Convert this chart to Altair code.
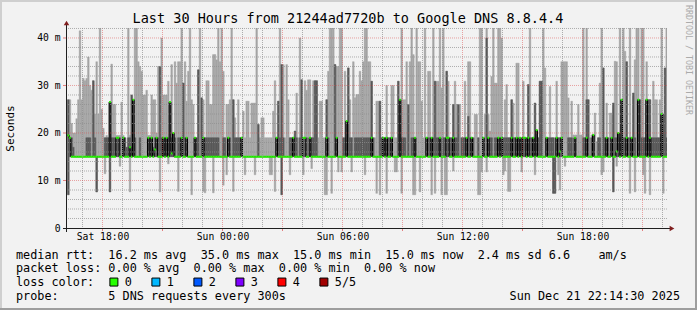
import altair as alt
import pandas as pd

MONO = "DejaVu Sans Mono"

title_text = "Last 30 Hours from 21244ad7720b to Google DNS 8.8.4.4"
watermark_text = "RRDTOOL / TOBI OETIKER"
y_title = "Seconds"

# ---- smoke data, one value per 5-minute step (ms) ----
max_ms = [
    27, 27, 22, 20, 20, 23, 27, 41.5, 27, 31.5, 31, 31.5, 36, 30, 29, 31, 24, 35, 24, 44,
    25, 21, 19, 19.5, 19, 26.5, 34.5, 26, 26, 19.5, 19.5, 19.5, 26.5, 19.5, 19, 17, 44, 19.5, 28, 27,
    44, 44, 35, 34, 33, 28, 28, 29, 19.5, 19.5, 28, 27, 27, 20, 34, 34, 40, 28, 28, 28,
    30.9, 26.5, 34.4, 20, 35, 30.5, 35, 35, 44, 30.5, 35, 26.7, 33, 44, 27, 26, 19, 19, 33.3, 44,
    27.4, 27, 19, 31, 31, 26, 26, 36.5, 36.5, 35.4, 44, 35, 44, 33, 19, 26, 26, 27, 44, 27,
    23.2, 19, 27, 19, 19, 24.6, 19, 26.7, 26.7, 19, 26.3, 26.3, 26.3, 44, 21.8, 19, 23.2, 23.2, 19, 19,
    19, 19, 19, 24.6, 31, 19, 26.7, 44, 34.4, 34.4, 19, 34.4, 27, 19, 19, 19, 20.4, 28.4, 19, 40,
    31.2, 19, 31, 29, 31.2, 31.2, 19, 31, 31, 31, 19, 26.7, 26.7, 19, 19, 27, 33, 44, 44, 44,
    34.4, 34, 34, 44, 44, 19, 33, 22.5, 33.7, 27, 19, 35, 27.4, 28.1, 28.1, 33, 31, 35, 44, 44,
    35, 35, 30.9, 19, 19, 26.7, 26.7, 26.7, 19, 19, 19, 30, 19, 19, 30, 30, 19, 19, 30.9, 27,
    44, 27, 27, 35, 26, 35, 44, 36.5, 19, 44, 35, 35, 26.7, 19, 44, 19, 33, 33, 19, 44,
    30.9, 30.9, 30.9, 44, 29.5, 44, 19, 33, 30.9, 19, 19, 26, 30.9, 26, 26, 26, 19, 19, 30.9, 19,
    35, 35, 19, 19, 23.9, 23.9, 19, 44, 44, 19, 23.9, 44, 23.9, 20.4, 31.9, 44, 30.5, 30.5, 44, 44,
    40, 19, 27, 30.2, 19, 19, 27, 26.3, 19, 34.7, 34.7, 19, 19, 30.9, 19, 19, 30.2, 44, 19, 19,
    26.3, 20.6, 19, 30.9, 30.9, 44, 33.7, 19, 19, 29.8, 19, 19, 19, 30.9, 19, 19, 35, 35, 35, 35,
    27.4, 19, 26.7, 19.6, 19.6, 19.6, 26, 19.6, 19.6, 44, 19, 44, 27, 19, 19.6, 19.6, 24.2, 18.2, 19, 30.5,
    44, 33.7, 19, 26.3, 19, 24.2, 24.2, 26.3, 35.1, 35, 20, 44, 27, 44, 37.2, 35, 19, 44, 19, 28.4,
    35.4, 44, 44, 27, 44, 44, 19, 35, 27, 27, 19, 30.9, 27, 27, 19, 27, 44, 24, 33.7, 44,
]

p4_ms = [
    27, 19, 19, 17, 15, 15, 15, 15, 15, 15, 15, 19, 19, 19, 15, 31, 19, 15, 15, 15,
    15, 15, 19, 19, 19, 26.5, 19, 19, 19, 19, 19, 19, 15, 19, 19, 17, 19, 19, 28, 27,
    19, 15, 15, 19, 15, 15, 15, 15, 19, 19, 19, 17, 19, 19, 19, 34, 19, 19, 19, 19,
    19, 26.5, 19, 20, 19, 15, 19, 19, 19, 30.5, 19, 19, 15, 15, 15, 15, 19, 19, 33.3, 15,
    27.4, 19, 19, 19, 19, 19, 19, 19, 19, 19, 19, 15, 15, 19, 19, 15, 19, 19, 15, 27,
    19, 19, 19, 19, 19, 15, 15, 15, 15, 15, 15, 15, 15, 15, 21.8, 15, 15, 15, 15, 15,
    15, 15, 15, 15, 15, 19, 26.7, 19, 34.4, 19, 15, 15, 15, 19, 19, 19, 20.4, 19, 15, 19,
    31.2, 19, 19, 19, 15, 19, 19, 19, 31, 31, 15, 15, 15, 15, 15, 27, 19, 15, 15, 15,
    34.4, 19, 15, 15, 15, 19, 19, 22.5, 33.7, 19, 19, 15, 19, 19, 19, 19, 19, 19, 19, 19,
    19, 19, 30.9, 19, 15, 15, 15, 26.7, 19, 19, 19, 19, 19, 19, 19, 15, 15, 15, 30.9, 27,
    19, 19, 19, 15, 26, 15, 19, 19, 19, 15, 15, 15, 15, 15, 15, 19, 19, 19, 19, 19,
    30.9, 19, 19, 19, 15, 19, 19, 33, 19, 19, 19, 26, 19, 19, 26, 15, 19, 19, 19, 19,
    23.5, 19, 19, 19, 15, 15, 19, 15, 15, 19, 15, 40, 19, 19, 19, 15, 19, 19, 19, 19,
    19, 19, 19, 19, 19, 19, 27, 19, 19, 19, 19, 19, 19, 19, 19, 19, 30.2, 19, 19, 19,
    26.3, 20.6, 19, 30.9, 30.9, 15, 15, 19, 19, 19, 19, 19, 15, 19, 19, 19, 19, 15, 15, 15,
    19, 19, 19, 15, 19, 15, 15, 15, 15, 19, 19, 27, 27, 15, 19, 19.6, 15, 15, 19, 19,
    15, 33.7, 19, 19, 19, 15, 19, 26.3, 19, 19, 20, 19, 27, 19, 19, 35, 19, 19, 19, 28.4,
    19, 15, 27, 27, 19, 19, 19, 27, 27, 27, 19, 19, 19, 19, 19, 19, 24, 24, 33.7, 19,
]

med_ms = [
    19.5, 19, 15, 15, 15, 15, 15, 15, 15, 15, 15, 15, 15, 15, 15, 15, 15, 15, 15, 15,
    15, 15, 15, 15, 15, 26.5, 15, 15, 15, 19, 19, 15, 15, 19, 15, 15, 15, 17, 15, 27,
    15, 15, 15, 15, 15, 15, 15, 15, 19, 15, 19, 15, 16.5, 19, 15, 15, 15, 19, 15, 19,
    15, 26.5, 15.7, 20, 15, 15, 15, 15, 19, 15, 15, 19, 15, 15, 15, 15, 19, 15, 15, 15,
    15, 19, 15, 15, 15, 15, 15, 15, 15, 15, 15, 15, 15, 15, 15, 15, 19, 15, 15, 15,
    15, 15, 15, 15, 19, 15, 15, 15, 15, 15, 15, 15, 15, 15, 15, 15, 15, 15, 15, 15,
    15, 15, 15, 15, 15, 19, 15, 15, 15, 15, 15, 15, 15, 15, 15, 19, 15, 15, 15, 15,
    15, 19, 19, 15, 15, 19, 15, 15, 15, 15, 15, 15, 15, 15, 15, 19, 15, 15, 15, 15,
    15, 19, 15, 15, 15, 15, 15, 22.5, 15, 15, 15, 15, 15, 15, 15, 15, 15, 15, 15, 15,
    15, 15, 19, 15, 15, 15, 15, 15, 15, 19, 15, 19, 15, 15, 19, 15, 15, 15, 15, 27,
    15, 15, 15, 15, 15, 15, 15, 15, 19, 15, 15, 15, 15, 15, 15, 19, 15, 15, 19, 15,
    15, 15, 15, 19, 15, 15, 15, 19, 19, 15, 15, 19, 15, 15, 15, 15, 15, 15, 15, 19,
    15, 15, 19, 15, 15, 15, 15, 15, 15, 19, 15, 15, 19, 15, 15, 15, 15, 15, 19, 15,
    19, 15, 15, 15, 15, 15, 19, 15, 15, 19, 15, 19, 15, 19, 19, 15, 19, 15, 15, 19,
    15, 20.6, 15, 15, 15, 15, 15, 19, 15, 15, 15, 15, 15, 19, 15, 16.1, 19, 15, 15, 15,
    15, 15, 15, 15, 19, 15, 15, 15, 15, 15, 15, 19, 15, 15, 15, 19.6, 15, 15, 15, 15,
    15, 15, 15, 19, 15, 15, 19, 15, 15, 16.1, 20, 15, 27, 15, 15, 19, 15, 15, 19, 15,
    15, 15, 27, 15, 15, 15, 15, 27, 15, 19, 15, 15, 15, 15, 15, 15, 24, 15, 15, 15,
]

p2_ms = [
    7, 15, 15, 15, 15, 15, 15, 15, 15, 15, 15, 15, 15, 15, 15, 15, 15, 7.6, 15, 15,
    15, 15, 15, 15, 15, 7.6, 15, 15, 15, 15, 15, 15, 15, 15, 15, 15, 15, 15, 15, 15,
    15, 15, 15, 15, 15, 15, 15, 15, 15, 15, 15, 15, 15, 15, 15, 15, 15, 15, 15, 15,
    15, 15, 15, 15, 15, 15, 15, 15, 15, 15, 15, 15, 15, 15, 15, 15, 15, 15, 15, 15,
    15, 15, 15, 15, 15, 15, 15, 15, 15, 15, 15, 15, 15, 15, 15, 15, 15, 15, 15, 15,
    15, 15, 15, 15, 15, 15, 15, 15, 15, 15, 15, 15, 15, 15, 15, 15, 15, 15, 15, 15,
    15, 15, 15, 15, 15, 15, 15, 15, 7, 15, 15, 15, 15, 15, 15, 15, 15, 15, 15, 15,
    15, 15, 15, 15, 15, 15, 15, 15, 15, 15, 15, 15, 15, 15, 15, 15, 15, 15, 15, 15,
    15, 15, 15, 15, 15, 15, 15, 15, 15, 15, 15, 15, 15, 15, 15, 15, 15, 15, 15, 15,
    15, 15, 15, 15, 15, 15, 15, 15, 15, 15, 15, 15, 15, 15, 15, 15, 15, 15, 15, 15,
    15, 15, 15, 15, 15, 15, 15, 15, 15, 15, 15, 15, 15, 15, 15, 15, 15, 15, 15, 15,
    15, 15, 15, 15, 15, 15, 15, 15, 15, 15, 15, 15, 15, 15, 15, 15, 15, 15, 15, 15,
    15, 15, 15, 15, 15, 15, 15, 15, 15, 15, 15, 15, 15, 15, 15, 15, 15, 15, 15, 15,
    15, 15, 15, 15, 15, 15, 15, 15, 15, 15, 15, 15, 15, 15, 15, 15, 15, 15, 15, 15,
    15, 15, 15, 15, 15, 15, 15, 15, 15, 15, 15, 7.3, 7.3, 15, 15, 15, 15, 15, 15, 15,
    15, 15, 15, 15, 15, 15, 15, 15, 15, 15, 15, 15, 15, 15, 15, 15, 15, 15, 15, 15,
    15, 15, 15, 15, 15, 15, 15, 7.6, 15, 15, 15, 15, 15, 15, 15, 15, 15, 15, 15, 15,
    15, 15, 15, 15, 15, 15, 15, 15, 15, 15, 15, 15, 15, 15, 15, 15, 15, 15, 15, 15,
]

min_ms = [
    7, 15, 15, 15, 15, 15, 15, 15, 15, 15, 15, 15, 15, 15, 15, 15, 15, 7.6, 15, 15,
    15, 15, 11.4, 15, 15, 7.6, 15, 15, 15, 15, 15, 13, 15, 15, 15, 15, 15, 7.6, 15, 15,
    15, 15, 15, 15, 15, 15, 15, 15, 15, 15, 15, 15, 15, 15, 15, 7.6, 15, 15, 15, 15,
    13.5, 15, 15, 15, 15, 15, 7.7, 15, 15, 15, 15, 15, 15, 15, 7, 15, 15, 15, 15, 15,
    15, 7.7, 7.4, 15, 15, 15, 15, 7.4, 15, 15, 15, 15, 15, 9, 15, 11.2, 15, 15, 15, 7.7,
    15, 15, 15, 15, 15, 15, 11.2, 15, 15, 15, 15, 15, 11.2, 15, 15, 15, 15, 15, 15, 15,
    15, 11.2, 11.2, 15, 7.7, 15, 15, 15, 7, 15, 15, 15, 15, 11.2, 15, 15, 15, 15, 15, 15,
    15, 11.2, 15, 15, 15, 15, 12.5, 15, 15, 15, 15, 15, 15, 15, 7, 7, 15, 15, 7.3, 15,
    15, 15, 11.8, 15, 11.8, 15, 15, 15, 15, 15, 11.8, 15, 15, 15, 15, 15, 15, 15, 11.2, 15,
    15, 15, 15, 15, 15, 7.3, 15, 7, 15, 15, 15, 7.3, 15, 15, 15, 15, 11.8, 11.8, 15, 15,
    7.3, 15, 15, 15, 15, 15, 15, 7, 7, 15, 15, 7.6, 15, 15, 15, 15, 15, 15, 7, 15,
    7.3, 15, 15, 15, 7, 15, 7, 7, 15, 15, 15, 12, 15, 15, 15, 15, 15, 15, 15, 15,
    15, 15, 15, 15, 15, 15, 7, 7, 11.8, 15, 15, 11.8, 15, 15, 15, 15, 15, 15, 15, 15,
    15, 11.2, 12, 15, 7.7, 7.7, 15, 15, 15, 15, 15, 15, 11.8, 15, 15, 15, 15, 15, 15, 15,
    11.2, 15, 15, 15, 15, 15, 15, 15, 15, 15, 15, 7.3, 7.3, 15, 11.2, 8, 15, 15, 13, 15,
    15, 15, 15, 15, 15, 15, 15, 15, 15, 15, 15, 15, 15, 15, 15, 15, 15, 15, 15, 15,
    11.2, 11.8, 15, 15, 15, 15, 15, 7.6, 15, 13, 15, 15, 15, 15, 15, 15, 15, 7.3, 15, 15,
    7.6, 15, 15, 15, 15, 11.2, 7.3, 15, 15, 7, 15, 15, 15, 15, 15, 15, 15, 7.3, 15, 15,
]

n = len(max_ms)
assert all(len(a) == n for a in (p4_ms, med_ms, p2_ms, min_ms)), "length mismatch"

loss_labels = ["0", "1", "2", "3", "4", "5/5"]
loss_colors = ["#26ff00", "#00b8ff", "#0059ff", "#7e00ff", "#ff0000", "#a10000"]

y_label_values = [0, 10, 20, 30, 40]
y_major = [10, 20, 30, 40]
y_minor = [2, 4, 6, 8, 12, 14, 16, 18, 22, 24, 26, 28, 32, 34, 36, 38, 42]

stats_rows = [
    "median rtt:  16.2 ms avg  35.0 ms max  15.0 ms min  15.0 ms now  2.4 ms sd 6.6    am/s",
    "packet loss: 0.00 % avg  0.00 % max  0.00 % min  0.00 % now",
    "loss color:",
    "probe:       5 DNS requests every 300s",
]
stamp_text = "Sun Dec 21 22:14:30 2025"

# ---- frames ----
start = pd.Timestamp("2025-12-20 16:15:00")
t0 = pd.date_range(start, periods=n, freq="5min")
t1 = t0 + pd.Timedelta(minutes=5)
smoke = pd.DataFrame({
    "t0": t0, "t1": t1, "mn": min_ms, "p2": p2_ms, "p4": p4_ms,
    "mx": max_ms, "med": med_ms,
})
med_line = pd.DataFrame({"t": list(t0) + [t1[-1]], "med": med_ms + [med_ms[-1]]})

hours = pd.date_range("2025-12-20 17:00", "2025-12-21 22:00", freq="1h")
minor_x = pd.DataFrame({"t": [h for h in hours if h.hour % 3 != 0]})
major_x = pd.DataFrame({"t": [h for h in hours if h.hour % 3 == 0]})
minor_y = pd.DataFrame({"v": y_minor})
major_y = pd.DataFrame({"v": y_major})

x_scale = alt.Scale(domain=[
    alt.DateTime(year=2025, month=12, date=20, hours=16, minutes=13, seconds=30),
    alt.DateTime(year=2025, month=12, date=21, hours=22, minutes=13, seconds=30),
])
y_scale = alt.Scale(domain=[0, 42.1], nice=False, zero=False)
loss_scale = alt.Scale(domain=loss_labels, range=loss_colors)

x_axis = alt.Axis(
    values=[
        alt.DateTime(year=2025, month=12, date=20, hours=18),
        alt.DateTime(year=2025, month=12, date=21, hours=0),
        alt.DateTime(year=2025, month=12, date=21, hours=6),
        alt.DateTime(year=2025, month=12, date=21, hours=12),
        alt.DateTime(year=2025, month=12, date=21, hours=18),
    ],
    format="%a %H:%M", labelFont=MONO, labelFontSize=9.7, labelColor="#000000",
    labelPadding=3, ticks=False, tickSize=0, domain=False, grid=False, title="",
    labelFlush=False, labelOverlap=False,
)
y_axis = alt.Axis(
    values=y_label_values,
    labelExpr="datum.value == 0 ? '0' : datum.value + ' m'",
    labelFont=MONO, labelFontSize=9.7, labelColor="#000000", labelPadding=7,
    ticks=False, tickSize=0, domain=False, grid=False,
    title=y_title, titleFont=MONO, titleFontSize=11, titleFontWeight="normal",
    titleColor="#000000", titleX=-57, titleY=100, titleAngle=270,
    titleAlign="center", titleBaseline="middle",
)

light = alt.Chart(smoke).mark_rect(color="#a4a4a4", stroke="#a4a4a4", strokeWidth=0.4, clip=True).encode(
    x=alt.X("t0:T", scale=x_scale, axis=x_axis), x2="t1:T",
    y=alt.Y("mn:Q", scale=y_scale, axis=y_axis), y2="mx:Q",
)
dark = alt.Chart(smoke).mark_rect(color="#585858", stroke="#585858", strokeWidth=0.4, clip=True).encode(
    x="t0:T", x2="t1:T", y="p2:Q", y2="p4:Q",
)
median_black = alt.Chart(med_line).mark_line(
    interpolate="step-after", color="#000000", strokeWidth=1, clip=True
).encode(x="t:T", y="med:Q")
median_band = alt.Chart(smoke).mark_rule(strokeWidth=2, clip=True, color=loss_colors[0]).encode(
    x="t0:T", x2="t1:T", y="med:Q",
)
legend_src = alt.Chart(pd.DataFrame({"loss": loss_labels})).mark_square(opacity=0).encode(
    color=alt.Color("loss:N", scale=loss_scale, legend=alt.Legend(
        orient="none", legendX=41, legendY=248, direction="horizontal", title=None,
        symbolType="square", symbolSize=64, symbolStrokeColor="#000000",
        symbolStrokeWidth=1, symbolOpacity=1, labelFont=MONO, labelFontSize=11.8,
        labelColor="#000000", labelOffset=5, columnPadding=17, padding=0,
    ))
)

grid_minor_x = alt.Chart(minor_x).mark_rule(color="#8f8f8f", opacity=0.7, strokeDash=[1, 1]).encode(
    x="t:T")
grid_major_x = alt.Chart(major_x).mark_rule(color="#de4f4f", opacity=0.5, strokeDash=[1, 1]).encode(
    x="t:T")
grid_minor_y = alt.Chart(minor_y).mark_rule(color="#8f8f8f", opacity=0.7, strokeDash=[1, 1]).encode(
    y="v:Q")
grid_major_y = alt.Chart(major_y).mark_rule(color="#de4f4f", opacity=0.5, strokeDash=[1, 1]).encode(
    y="v:Q")
tick_x = alt.Chart(major_x).mark_rule(color="#de4f4f", opacity=0.7).encode(
    x="t:T", y=alt.value(200), y2=alt.value(203))
tick_y = alt.Chart(major_y).mark_rule(color="#de4f4f", opacity=0.7).encode(
    y="v:Q", x=alt.value(-4), x2=alt.value(0))

one = pd.DataFrame({"k": [0]})
axis_x_line = alt.Chart(one).mark_rule(color="#1f1f1f").encode(
    x=alt.value(-4), x2=alt.value(603), y=alt.value(200.5))
axis_y_line = alt.Chart(one).mark_rule(color="#1f1f1f").encode(
    x=alt.value(-0.5), y=alt.value(-4), y2=alt.value(204))
arrow_r = alt.Chart(one).mark_point(shape="triangle-right", filled=True, size=30, opacity=1,
                                    color="#801f1f").encode(x=alt.value(605), y=alt.value(200.5))
arrow_u = alt.Chart(one).mark_point(shape="triangle-up", filled=True, size=30, opacity=1,
                                    color="#801f1f").encode(x=alt.value(-0.5), y=alt.value(-5))

frame_top = alt.Chart(one).mark_rule(color="#cfcfcf", strokeWidth=2).encode(
    x=alt.value(-67), x2=alt.value(630), y=alt.value(-27))
frame_left = alt.Chart(one).mark_rule(color="#cfcfcf", strokeWidth=2).encode(
    x=alt.value(-66), y=alt.value(-28), y2=alt.value(282))
frame_right = alt.Chart(one).mark_rule(color="#9e9e9e", strokeWidth=2).encode(
    x=alt.value(629), y=alt.value(-28), y2=alt.value(282))
frame_bottom = alt.Chart(one).mark_rule(color="#9e9e9e", strokeWidth=2).encode(
    x=alt.value(-67), x2=alt.value(630), y=alt.value(281))


def text_layer(s, x, y, size, align="left", color="#000000", angle=0):
    s = s.replace(" ", "\u00a0")
    return alt.Chart(pd.DataFrame({"s": [s]})).mark_text(
        font=MONO, fontSize=size, align=align, baseline="middle", color=color, angle=angle
    ).encode(text="s:N", x=alt.value(x), y=alt.value(y))


texts = [
    text_layer(title_text, 281, -9, 13.5, align="center"),
    text_layer(watermark_text, 621, -23, 8.3, color="#ababab", angle=90),
    text_layer(stats_rows[0], -51, 226.5, 11.8),
    text_layer(stats_rows[1], -51, 240, 11.8),
    text_layer(stats_rows[2], -51, 254, 11.8),
    text_layer(stats_rows[3], -51, 268, 11.8),
    text_layer(stamp_text, 613, 268, 11.8, align="right"),
]

chart = alt.layer(
    light, dark, median_black, median_band, legend_src,
    grid_minor_x, grid_major_x, grid_minor_y, grid_major_y,
    tick_x, tick_y, axis_x_line, axis_y_line, arrow_r, arrow_u,
    frame_top, frame_left, frame_right, frame_bottom,
    *texts,
).properties(
    width=600, height=200, background="#f2f2f2",
    padding={"left": 67, "top": 28, "right": 30, "bottom": 82},
    autosize=alt.AutoSizeParams(type="none"),
).configure_view(fill="white", strokeWidth=0)

chart.save("out.html", embed_options={"renderer": "svg", "actions": False})
